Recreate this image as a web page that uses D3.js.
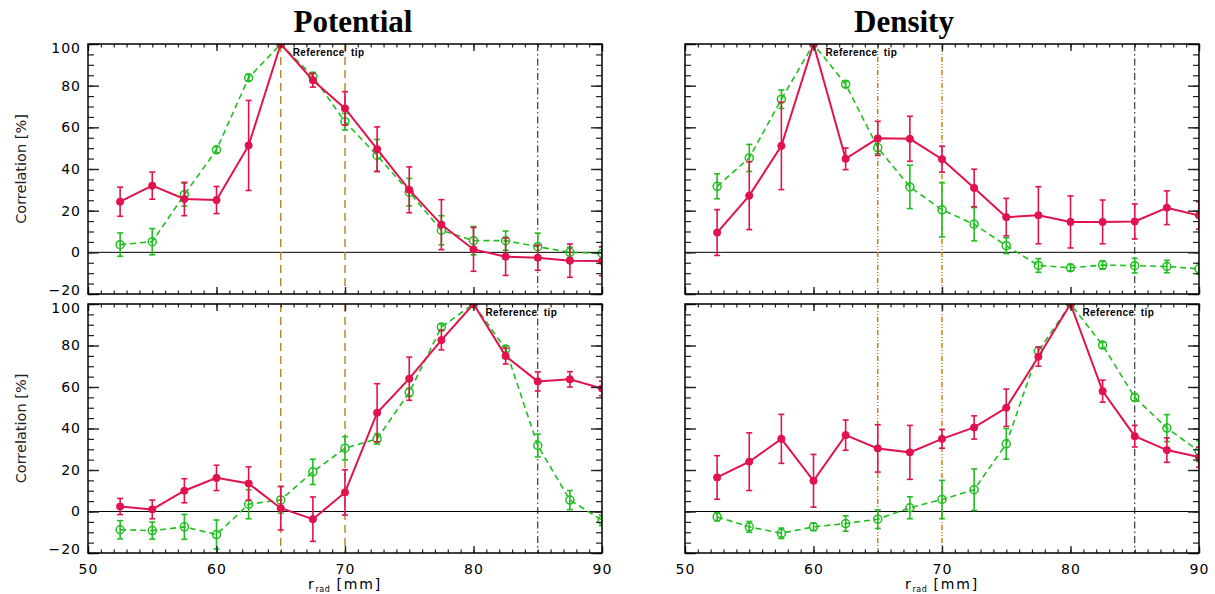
<!DOCTYPE html>
<html>
<head>
<meta charset="utf-8">
<script src="https://cdn.jsdelivr.net/npm/d3@7"></script>
<style>
  html, body { margin: 0; padding: 0; background: #fff; }
  svg { display: block; }
  .tick text { font-family: "DejaVu Sans", sans-serif; font-size: 14px; letter-spacing: 1px; fill: #000; }
</style>
</head>
<body>
<svg id="chart" width="1215" height="594"></svg>
<script>
// Radial positions of the probe (mm)
const rRad = [52.5, 55, 57.5, 60, 62.5, 65, 67.5, 70, 72.5, 75, 77.5, 80, 82.5, 85, 87.5, 90];

// Potential, reference tip at 65 mm
const potTopRed      = [24.3, 32, 25.6, 25.1, 51.3, 100, 82.6, 69.1, 49.5, 30, 13.3, 1.4, -2.1, -2.6, -4, -4.2];
const potTopRedErr   = [7, 6.5, 8, 6.5, 21.6, 0, 3.3, 8, 10.7, 11, 12, 10.5, 9, 6, 8, 7];
const potTopGreen    = [3.7, 5.1, 27.7, 49.2, 83.8, 100, 84.4, 62.7, 46.5, 28.9, 10.6, 5.6, 5.6, 2.7, 0, -0.5];
const potTopGreenErr = [5.6, 6.3, 5.5, 1.5, 1.5, 0, 2, 4, 7.7, 6.6, 7, 6.8, 4.6, 6.5, 2.5, 3];

// Density, reference tip at 60 mm
const denTopRed      = [9.5, 27.2, 51.1, 100, 44.9, 54.7, 54.5, 44.7, 30.9, 16.9, 17.8, 14.6, 14.6, 14.8, 21.4, 17.7];
const denTopRedErr   = [11, 16.3, 21, 0, 5.2, 8.2, 10.8, 6.2, 9, 9, 13.7, 12.5, 10.5, 8.4, 8.1, 6.6];
const denTopGreen    = [31.7, 45.3, 73.5, 100, 80.7, 50.3, 31.4, 20.4, 13.5, 3.2, -6.3, -7.4, -6.1, -6.4, -6.8, -7.9];
const denTopGreenErr = [6, 6.5, 4.4, 0, 1.5, 3, 10.4, 13, 8, 3.8, 3.3, 1.5, 2, 3.5, 3, 2.6];

// Potential, reference tip at 80 mm
const potBotRed      = [2.4, 1, 10, 16.2, 13.5, 1.6, -3.7, 9.2, 47.6, 64, 82.6, 100, 74.9, 62.7, 63.7, 59.3];
const potBotRedErr   = [3.9, 4.5, 5.8, 6.1, 8, 10.5, 10.7, 10.9, 14, 10.4, 4.7, 0, 3.8, 4.6, 3.7, 3.5];
const potBotGreen    = [-8.8, -9.2, -7.4, -11.1, 3.5, 5.6, 19.1, 30.5, 35, 57.4, 88.9, 100, 78.3, 31.8, 5.5, -4.2];
const potBotGreenErr = [4.4, 4.1, 6, 7, 7, 6.4, 6.1, 5.6, 2.5, 2, 1.5, 0, 1.5, 5.5, 4.6, 2.6];

// Density, reference tip at 80 mm
const denBotRed      = [16.4, 24, 35, 14.8, 36.8, 30.4, 28.5, 35, 40.5, 50, 74.6, 100, 58, 36.3, 29.6, 26.2];
const denBotRedErr   = [10.5, 13.9, 11.8, 12.7, 7.3, 11.4, 13, 4.5, 5.6, 9, 4.6, 0, 5.3, 5.2, 5.9, 4.8];
const denBotGreen    = [-2.6, -7.4, -10.5, -7.4, -5.8, -3.7, 1.8, 5.8, 10.5, 32.6, 77.3, 100, 80.2, 55, 40.2, 29.1];
const denBotGreenErr = [1.9, 2.6, 2.5, 1.8, 3.7, 4.5, 5.3, 9.2, 10, 7.4, 2, 0, 1.5, 1.8, 6.5, 5];

// Axis settings
const xDomain = [50, 90];
const yDomain = [-20, 100];
const xMajor = [50, 60, 70, 80, 90];
const xMinor = d3.range(50, 91, 1);
const yMajor = [-20, 0, 20, 40, 60, 80, 100];
const yMinor = d3.range(-20, 101, 5);

// Marker lines (mm)
const probeLines = [65, 70];
const separatrix = 85;

const titles = ["Potential", "Density"];
const yTitle = "Correlation [%]";
const refLabel = "Reference  tip";

const RED = "#e2124e";
const GREEN = "#1fbf1f";
const GOLD = "#bd8a2e";
const ORANGE = "#c98514";

const panels = [
  { col: 0, row: 0, red: potTopRed, redErr: potTopRedErr, green: potTopGreen, greenErr: potTopGreenErr, ref: 65 },
  { col: 1, row: 0, red: denTopRed, redErr: denTopRedErr, green: denTopGreen, greenErr: denTopGreenErr, ref: 60 },
  { col: 0, row: 1, red: potBotRed, redErr: potBotRedErr, green: potBotGreen, greenErr: potBotGreenErr, ref: 80 },
  { col: 1, row: 1, red: denBotRed, redErr: denBotRedErr, green: denBotGreen, greenErr: denBotGreenErr, ref: 80 }
];

const colX = [[88, 602], [685, 1199]];
const rowY = [[44, 294], [304, 553]];

const svg = d3.select("#chart");

panels.forEach((p, i) => {
  const [x0, x1] = colX[p.col];
  const [y0, y1] = rowY[p.row];
  const x = d3.scaleLinear().domain(xDomain).range([x0, x1]);
  const y = d3.scaleLinear().domain(yDomain).range([y1, y0]);
  const g = svg.append("g");

  const clipId = "clip" + i;
  svg.append("clipPath").attr("id", clipId)
    .append("rect").attr("x", x0).attr("y", y0).attr("width", x1 - x0).attr("height", y1 - y0);

  const plot = g.append("g").attr("clip-path", `url(#${clipId})`);

  // zero line
  plot.append("line")
    .attr("x1", x0).attr("x2", x1).attr("y1", y(0)).attr("y2", y(0))
    .attr("stroke", "#000").attr("stroke-width", 1);

  // probe position lines
  probeLines.forEach(v => {
    plot.append("line")
      .attr("x1", x(v)).attr("x2", x(v)).attr("y1", y0).attr("y2", y1)
      .attr("stroke", p.col === 0 ? GOLD : ORANGE)
      .attr("stroke-width", 1.5)
      .attr("stroke-dasharray", p.col === 0 ? "8,5" : "5,2,1,2,1,2");
  });
  plot.append("line")
    .attr("x1", x(separatrix)).attr("x2", x(separatrix)).attr("y1", y0).attr("y2", y1)
    .attr("stroke", "#111").attr("stroke-width", 1)
    .attr("stroke-dasharray", "7,3,1.5,3");

  const drawSeries = (vals, errs, color, filled) => {
    const pts = rRad.map((r, k) => ({ r, v: vals[k], e: errs[k] }));
    const line = d3.line().x(d => x(d.r)).y(d => y(d.v));
    plot.append("path").datum(pts)
      .attr("d", line).attr("fill", "none")
      .attr("stroke", color)
      .attr("stroke-width", filled ? 2 : 1.6)
      .attr("stroke-dasharray", filled ? null : "6,4");
    const eb = plot.append("g").attr("stroke", color).attr("stroke-width", 1.6);
    pts.filter(d => d.e > 0).forEach(d => {
      const cx = x(d.r), yt = y(d.v + d.e), yb = y(d.v - d.e);
      eb.append("line").attr("x1", cx).attr("x2", cx).attr("y1", yt).attr("y2", yb);
      eb.append("line").attr("x1", cx - 3).attr("x2", cx + 3).attr("y1", yt).attr("y2", yt);
      eb.append("line").attr("x1", cx - 3).attr("x2", cx + 3).attr("y1", yb).attr("y2", yb);
    });
    plot.append("g").selectAll("circle").data(pts).join("circle")
      .attr("cx", d => x(d.r)).attr("cy", d => y(d.v))
      .attr("r", filled ? 3.6 : 4)
      .attr("fill", filled ? color : "none")
      .attr("stroke", color).attr("stroke-width", filled ? 1 : 1.5);
  };

  drawSeries(p.green, p.greenErr, GREEN, false);
  drawSeries(p.red, p.redErr, RED, true);

  // reference tip label
  g.append("text")
    .attr("x", x(p.ref) + 12).attr("y", y0 + 12)
    .attr("font-family", "Liberation Sans, Arial, sans-serif")
    .attr("font-size", 10).attr("font-weight", "bold")
    .attr("letter-spacing", 0.4)
    .style("white-space", "pre")
    .text(refLabel);

  // axes: ticks inward on all four sides
  const showX = p.row === 1, showY = p.col === 0;
  const axes = [
    { ax: d3.axisBottom(x), tr: `translate(0,${y1})`, maj: xMajor, min: xMinor, len: 7, mlen: 3.5, lab: showX, pad: 11 },
    { ax: d3.axisTop(x), tr: `translate(0,${y0})`, maj: xMajor, min: xMinor, len: 7, mlen: 3.5, lab: false, pad: 7 },
    { ax: d3.axisLeft(y), tr: `translate(${x0},0)`, maj: yMajor, min: yMinor, len: 11, mlen: 6, lab: showY, pad: 7 },
    { ax: d3.axisRight(y), tr: `translate(${x1},0)`, maj: yMajor, min: yMinor, len: 11, mlen: 6, lab: false, pad: 7 }
  ];
  axes.forEach((a, k) => {
    const gm = g.append("g").attr("transform", a.tr)
      .call(a.ax.tickValues(a.min).tickSize(-a.mlen).tickFormat(""));
    gm.select(".domain").remove();
    gm.selectAll(".tick line").attr("stroke", "#222").attr("stroke-width", 1.2);
    const gM = g.append("g").attr("transform", a.tr)
      .call(a.ax.tickValues(a.maj).tickSize(-a.len).tickPadding(a.pad)
        .tickFormat(a.lab ? d3.format("") : ""));
    gM.select(".domain").remove();
    gM.selectAll(".tick line").attr("stroke", "#222").attr("stroke-width", 1.4);
    if (k === 2 && a.lab) {
      // keep the end labels inside the panel's height
      gM.selectAll(".tick text")
        .attr("dy", d => d === yDomain[1] ? "0.62em" : d === yDomain[0] ? "0.0em" : "0.32em");
    }
  });

  // frame
  g.append("rect")
    .attr("x", x0).attr("y", y0).attr("width", x1 - x0).attr("height", y1 - y0)
    .attr("fill", "none").attr("stroke", "#000").attr("stroke-width", 1.5);

  if (p.row === 0) {
    svg.append("text")
      .attr("x", p.col === 0 ? 353 : 904).attr("y", 32)
      .attr("text-anchor", "middle")
      .attr("font-family", "Liberation Serif, Times New Roman, serif")
      .attr("font-weight", "bold").attr("font-size", 31)
      .text(titles[p.col]);
  }
  if (showY) {
    svg.append("text")
      .attr("transform", `translate(26,${(y0 + y1) / 2}) rotate(-90)`)
      .attr("text-anchor", "middle")
      .attr("font-family", "DejaVu Sans, sans-serif")
      .attr("font-size", 14.5).attr("fill", "#222")
      .text(yTitle);
  }
  if (showX) {
    const t = svg.append("text")
      .attr("x", (x0 + x1) / 2).attr("y", 589)
      .attr("text-anchor", "middle")
      .attr("font-family", "DejaVu Sans, sans-serif")
      .attr("font-size", 14).attr("letter-spacing", 1.8);
    t.append("tspan").text("r");
    t.append("tspan").attr("font-size", 8).attr("dy", 3).attr("letter-spacing", 0.5).text("rad");
    t.append("tspan").attr("dy", -3).text(" [mm]");
  }
});
</script>
</body>
</html>
